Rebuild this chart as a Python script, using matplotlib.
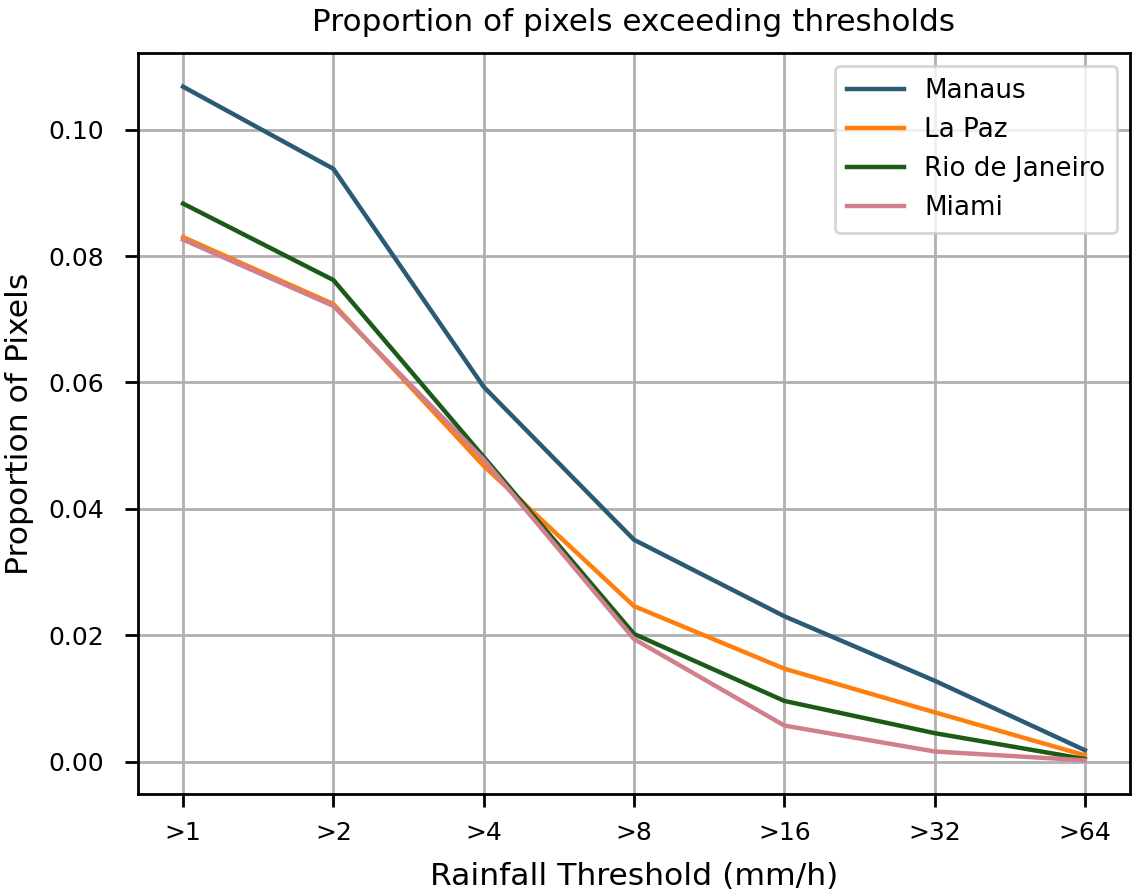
import matplotlib
matplotlib.use("Agg")
from matplotlib import pyplot as plt

thresholds = ['>1', '>2', '>4', '>8', '>16', '>32', '>64']

manaus = [0.1068, 0.0938, 0.0593, 0.0351, 0.0230, 0.0128, 0.0018]
la_paz = [0.0830, 0.0724, 0.0468, 0.0246, 0.0147, 0.0078, 0.0010]
rio = [0.0883, 0.0762, 0.0482, 0.0202, 0.0096, 0.0045, 0.0004]
miami = [0.0826, 0.0721, 0.0478, 0.0194, 0.0057, 0.0016, 0.0002]

series = [
	('Manaus', manaus, '#2b5b74'),
	('La Paz', la_paz, '#ff7f0e'),
	('Rio de Janeiro', rio, '#1b5b17'),
	('Miami', miami, '#cf808c'),
]

plt.rcParams['font.family'] = 'DejaVu Sans'
plt.rcParams['font.size'] = 9

fig = plt.figure(figsize=(1133/200, 896/200), dpi=200)
ax = fig.add_axes([138/1133, 1 - 794/896, 992/1133, 741/896])

x = list(range(len(thresholds)))
for name, vals, col in series:
	ax.plot(x, vals, label=name, color=col, linewidth=1.6)

ax.set_xticks(x)
ax.set_xticklabels(thresholds)
ax.set_yticks([0.0, 0.02, 0.04, 0.06, 0.08, 0.10])
ax.grid(True, color='#b0b0b0', linewidth=1.0)
ax.tick_params(length=4.7, width=1.0)
ax.tick_params(axis='x', pad=5)
ax.tick_params(axis='y', pad=7.5)
for s in ax.spines.values():
	s.set_linewidth(1.0)

# Figure labels
ax.set_title('Proportion of pixels exceeding thresholds', fontsize=11.2, pad=8)
ax.set_xlabel('Rainfall Threshold (mm/h)', fontsize=11.3, labelpad=6)
ax.set_ylabel('Proportion of Pixels', fontsize=11.3, labelpad=5)
ax.legend(loc='upper right', fontsize=9.4, labelspacing=0.5, handlelength=2.2,
	handletextpad=0.75, borderpad=0.45)

fig.savefig('out.png', dpi=200)
